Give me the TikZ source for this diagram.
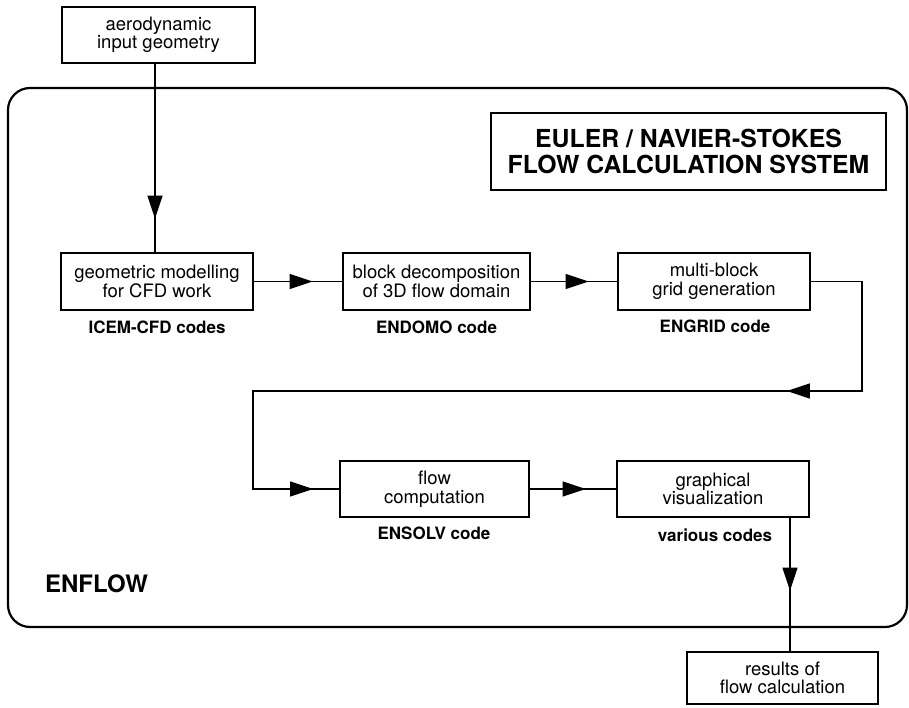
\documentclass[tikz,border=0pt]{standalone}
\usepackage{fontspec}
\setmainfont{TeX Gyre Heros}
\usetikzlibrary{arrows.meta,decorations.markings}
\tikzset{
  tri/.tip={Triangle[length=23pt,width=15pt]},
  arrowat/.style={postaction={decorate,decoration={markings,mark=at position #1 with {\arrow{tri}}}}},
  arrowtwo/.style 2 args={postaction={decorate,decoration={markings,
      mark=at position #1 with {\arrow{tri}},
      mark=at position #2 with {\arrow{tri}}}}},
}
\begin{document}
\begin{tikzpicture}[x=1pt,y=-1pt,
  box/.style={draw,line width=1.2pt,minimum width=192pt,minimum height=57pt,inner sep=0pt,align=center,font=\fontsize{18.5}{18.5}\selectfont},
  lbl/.style={font=\bfseries\fontsize{17}{19}\selectfont,inner sep=0pt},
  conn/.style={line width=1.3pt}]
\useasboundingbox (0,0) rectangle (909,708);
\fill[white] (0,0) rectangle (909,708);

% outer frame
\node[draw,line width=2.2pt,rounded corners=22pt,minimum width=899pt,minimum height=539pt,inner sep=0pt] (frame) at (457.5,357.5) {};

% title
\node[draw,line width=1.6pt,minimum width=395pt,minimum height=77pt,inner sep=0pt,align=center,font=\bfseries\fontsize{24.8}{26}\selectfont] (title) at (688.5,151.5) {EULER / NAVIER-STOKES\\FLOW CALCULATION SYSTEM};

\node[font=\bfseries\fontsize{24}{26}\selectfont,inner sep=0pt] (enflow) at (96.5,583.5) {ENFLOW};

% boxes
\node[box,minimum width=193pt,minimum height=56pt] (in) at (158.5,35) {aerodynamic\\input geometry};
\node[box] (b1) at (157,281.5) {geometric modelling\\for CFD work};
\node[box,minimum width=187pt] (b2) at (436.5,281.5) {block decomposition\\of 3D flow domain};
\node[box] (b3) at (714,281.5) {multi-block\\grid generation};
\node[box,minimum width=189pt,minimum height=56pt] (b4) at (434.5,489) {flow\\computation};
\node[box,minimum height=56pt] (b5) at (713,489) {graphical\\visualization};
\node[box,minimum width=191pt,minimum height=52pt] (res) at (782.5,678) {results of\\flow calculation};

% labels
\node[lbl] (l1) at (157,327) {ICEM-CFD codes};
\node[lbl] (l2) at (436.5,327) {ENDOMO code};
\node[lbl] (l3) at (715,326) {ENGRID code};
\node[lbl] (l4) at (434,533) {ENSOLV code};
\node[lbl] (l5) at (715,535) {various codes};

% connectors
\coordinate (xa) at (155,0);
\coordinate (xo) at (790,0);
\coordinate (c1) at (862,391);
\coordinate (c2) at (253,391);
\draw[conn,arrowat=155pt] (in.south -| xa) -- (b1.north -| xa);
\draw[conn,arrowat=59pt] (b1.east) -- (b2.west);
\draw[conn,arrowat=58pt] (b2.east) -- (b3.west);
\draw[conn,arrowtwo={236pt}{928pt}] (b3.east) -| (c1) -- (c2) |- (b4.west);
\draw[conn,arrowat=56pt] (b4.east) -- (b5.west);
\draw[conn,arrowat=73pt] (b5.south -| xo) -- (res.north -| xo);
\end{tikzpicture}
\end{document}
